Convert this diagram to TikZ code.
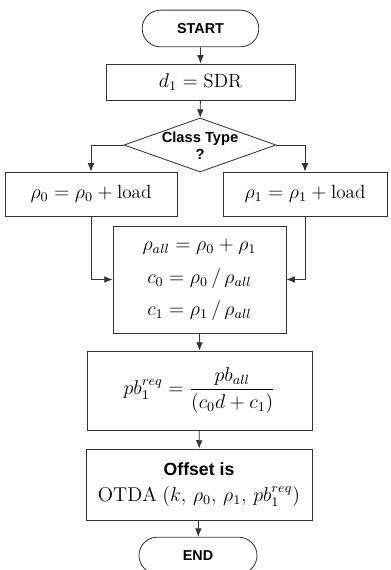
\documentclass[tikz,border=0pt]{standalone}
\usepackage{amsmath}
\usepackage{fontspec}
\setsansfont{Liberation Sans}
\usetikzlibrary{arrows.meta, shapes.geometric, shapes.misc}
\definecolor{inkline}{HTML}{333333}
\newcommand{\lbl}[1]{{\sffamily\bfseries #1}}

\begin{document}
\begin{tikzpicture}[x=1pt, y=-1pt, font=\fontsize{11.5}{14}\selectfont,
    box/.style={draw=inkline, line width=0.5pt, inner sep=0pt, align=center},
    term/.style={box, rounded rectangle, minimum width=70pt, minimum height=22pt,
                 font=\fontsize{8.6}{10}\selectfont},
    flow/.style={draw=inkline, line width=0.5pt, -{Latex[length=5pt, width=4pt]}}]
  \useasboundingbox (0,0) rectangle (234,342);
  \node[term] (start) at (120.3,17.1) {\lbl{START}};
  \node[box, minimum width=113.4pt, minimum height=21.6pt] (sdr) at (120.3,49.2)
    {$d_1 = \mathrm{SDR}$};
  \node[box, diamond, minimum width=91.2pt, minimum height=32.4pt] (cls) at (120,87) {};
  \node[align=center, inner sep=0pt, font=\fontsize{8.8}{10}\selectfont] (clstext)
    at (120,87.6) {\lbl{Class Type}\\\lbl{?}};
  \node[box, minimum width=103.2pt, minimum height=26.4pt] (load0) at (54.6,116.4)
    {$\rho_0 = \rho_0 + \mathrm{load}$};
  \node[box, minimum width=98.4pt, minimum height=26.4pt] (load1) at (183,116.4)
    {$\rho_1 = \rho_1 + \mathrm{load}$};
  \node[box, minimum width=103.8pt, minimum height=64.2pt] (ratio) at (119.7,167.7)
    {$\rho_{all} = \rho_0 + \rho_1$\\[6pt]
     $c_0 = \rho_0 \,/\, \rho_{all}$\\[5pt]
     $c_1 = \rho_1 \,/\, \rho_{all}$};
  \node[box, minimum width=135pt, minimum height=47.4pt] (req) at (119.7,234.3)
    {$pb_1^{req} = \dfrac{pb_{all}}{(c_0 d + c_1)}$};
  \node[box, minimum width=135.6pt, minimum height=42.6pt] (offset) at (119.4,290.7)
    {{\fontsize{10.6}{12}\selectfont\lbl{Offset is}}\\[2pt]
     {\fontsize{12}{14}\selectfont$\mathrm{OTDA}\;(k,\, \rho_0,\, \rho_1,\, pb_1^{req})$}};
  \node[term, minimum width=70.8pt] (stop) at (118.8,333.3) {\lbl{END}};

  % connectors
  \draw[flow] (start) -- (sdr);
  \draw[flow] (sdr) -- (cls);
  \draw[flow] (cls.west) -| (load0.north);
  \draw[flow] (cls.east) -| (load1.north);
  \draw[flow] (load0.south) |- (ratio.west);
  \draw[flow] (load1.south) |- (ratio.east);
  \draw[flow] (ratio) -- (req);
  \draw[flow] (req) -- (offset);
  \draw[flow] (offset) -- (stop);
\end{tikzpicture}
\end{document}
